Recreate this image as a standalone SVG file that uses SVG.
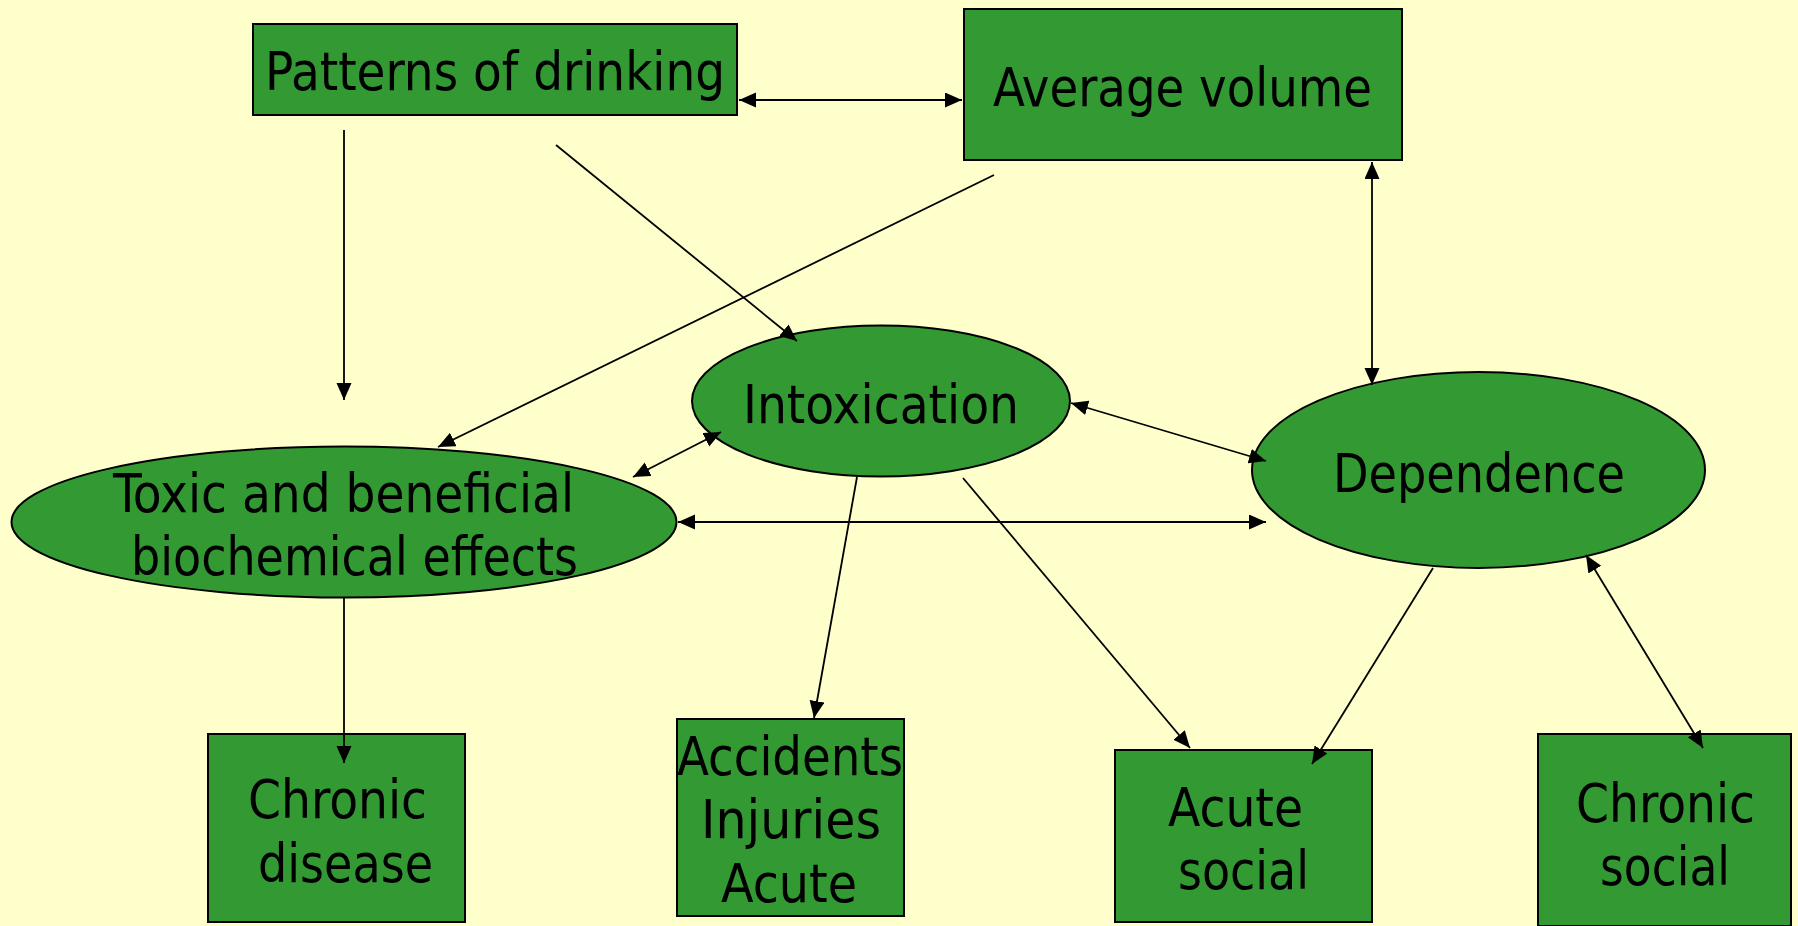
<svg xmlns="http://www.w3.org/2000/svg" width="1798" height="926" viewBox="0 0 1798 926">
  <style>
    .node { fill: #339933; stroke: #000000; stroke-width: 2; }
    .lbl { font-family: "DejaVu Sans Condensed", "DejaVu Sans", sans-serif; font-size: 53px; fill: #000000; }
    .conn { stroke: #000000; stroke-width: 1.8; fill: none; }
  </style>
  <defs>
    <marker id="ah" markerUnits="userSpaceOnUse" markerWidth="18" markerHeight="16" refX="17" refY="7.5" orient="auto-start-reverse" viewBox="0 0 18 16">
      <path d="M0,0 L17,7.5 L0,15 z" fill="#000000"/>
    </marker>
  </defs>
  <rect x="0" y="0" width="1798" height="926" fill="#FFFFCC"/>

  <g id="patterns">
    <rect class="node" x="253" y="24" width="484" height="91"/>
    <text class="lbl" x="265" y="90" textLength="460" lengthAdjust="spacingAndGlyphs">Patterns of drinking</text>
  </g>
  <g id="average-volume">
    <rect class="node" x="964" y="9" width="438" height="151"/>
    <text class="lbl" x="993" y="106" textLength="379" lengthAdjust="spacingAndGlyphs">Average volume</text>
  </g>
  <g id="intoxication">
    <ellipse class="node" cx="881" cy="401" rx="189" ry="75.5"/>
    <text class="lbl" x="743" y="423" textLength="276" lengthAdjust="spacingAndGlyphs">Intoxication</text>
  </g>
  <g id="toxic">
    <ellipse class="node" cx="344" cy="522" rx="332.5" ry="75.5"/>
    <text class="lbl" x="113" y="512" textLength="461" lengthAdjust="spacingAndGlyphs">Toxic and beneficial</text>
    <text class="lbl" x="131" y="575" textLength="447" lengthAdjust="spacingAndGlyphs">biochemical effects</text>
  </g>
  <g id="dependence">
    <ellipse class="node" cx="1478.5" cy="470" rx="226.5" ry="98"/>
    <text class="lbl" x="1333" y="492" textLength="292" lengthAdjust="spacingAndGlyphs">Dependence</text>
  </g>
  <g id="chronic-disease">
    <rect class="node" x="208" y="734" width="257" height="188"/>
    <text class="lbl" x="248" y="818" textLength="179" lengthAdjust="spacingAndGlyphs">Chronic</text>
    <text class="lbl" x="258" y="882" textLength="175" lengthAdjust="spacingAndGlyphs">disease</text>
  </g>
  <g id="accidents">
    <rect class="node" x="677" y="719" width="227" height="197"/>
    <text class="lbl" x="677" y="775" textLength="226" lengthAdjust="spacingAndGlyphs">Accidents</text>
    <text class="lbl" x="701" y="838" textLength="180" lengthAdjust="spacingAndGlyphs">Injuries</text>
    <text class="lbl" x="721" y="902" textLength="136" lengthAdjust="spacingAndGlyphs">Acute</text>
  </g>
  <g id="acute-social">
    <rect class="node" x="1115" y="750" width="257" height="172"/>
    <text class="lbl" x="1168" y="826" textLength="135" lengthAdjust="spacingAndGlyphs">Acute</text>
    <text class="lbl" x="1178" y="889" textLength="131" lengthAdjust="spacingAndGlyphs">social</text>
  </g>
  <g id="chronic-social">
    <rect class="node" x="1538" y="734" width="253" height="192"/>
    <text class="lbl" x="1576" y="822" textLength="179" lengthAdjust="spacingAndGlyphs">Chronic</text>
    <text class="lbl" x="1600" y="885" textLength="130" lengthAdjust="spacingAndGlyphs">social</text>
  </g>

  <g id="connectors">
    <line class="conn" x1="739" y1="100" x2="962" y2="100" marker-start="url(#ah)" marker-end="url(#ah)"/>
    <line class="conn" x1="344" y1="130" x2="344" y2="400" marker-end="url(#ah)"/>
    <line class="conn" x1="556" y1="145" x2="797" y2="341" marker-end="url(#ah)"/>
    <line class="conn" x1="994" y1="175" x2="438" y2="447" marker-end="url(#ah)"/>
    <line class="conn" x1="1372" y1="162" x2="1372" y2="385" marker-start="url(#ah)" marker-end="url(#ah)"/>
    <line class="conn" x1="633" y1="477" x2="721" y2="432" marker-start="url(#ah)" marker-end="url(#ah)"/>
    <line class="conn" x1="1071" y1="403" x2="1266" y2="461" marker-start="url(#ah)" marker-end="url(#ah)"/>
    <line class="conn" x1="678" y1="522" x2="1266" y2="522" marker-start="url(#ah)" marker-end="url(#ah)"/>
    <line class="conn" x1="344" y1="598" x2="344" y2="763" marker-end="url(#ah)"/>
    <line class="conn" x1="857" y1="477" x2="814" y2="718" marker-end="url(#ah)"/>
    <line class="conn" x1="963" y1="478" x2="1190" y2="748" marker-end="url(#ah)"/>
    <line class="conn" x1="1433" y1="568" x2="1312" y2="764" marker-end="url(#ah)"/>
    <line class="conn" x1="1586" y1="555" x2="1703" y2="748" marker-start="url(#ah)" marker-end="url(#ah)"/>
  </g>
</svg>
